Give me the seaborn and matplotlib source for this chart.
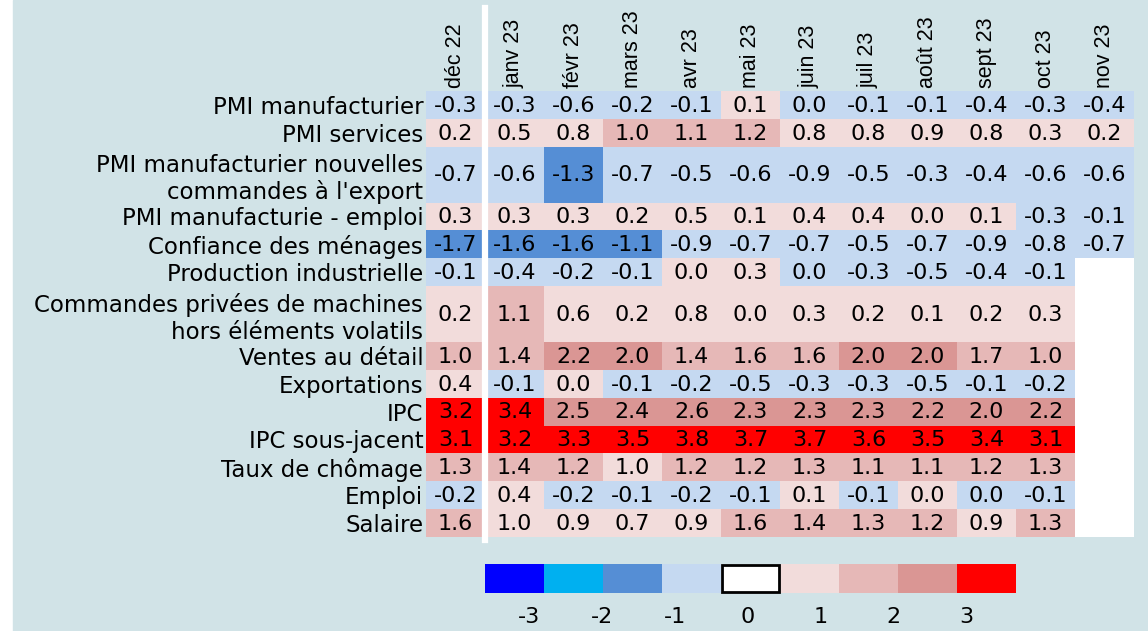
import numpy as np
import pandas as pd
import matplotlib.pyplot as plt
from matplotlib.colors import ListedColormap, BoundaryNorm
from matplotlib.patches import Rectangle
import seaborn as sns

# mois (colonnes) et indicateurs (lignes)
mois = ['déc 22', 'janv 23', 'févr 23', 'mars 23', 'avr 23', 'mai 23', 'juin 23',
        'juil 23', 'août 23', 'sept 23', 'oct 23', 'nov 23']
indicateurs = ['PMI manufacturier', 'PMI services',
               "PMI manufacturier nouvelles\ncommandes à l'export",
               'PMI manufacturie - emploi', 'Confiance des ménages',
               'Production industrielle',
               'Commandes privées de machines\nhors éléments volatils',
               'Ventes au détail', 'Exportations', 'IPC', 'IPC sous-jacent',
               'Taux de chômage', 'Emploi', 'Salaire']
hauteurs = [1, 1, 2, 1, 1, 1, 2, 1, 1, 1, 1, 1, 1, 1]

nan = np.nan
# valeurs (2e décimale = signe/palier de couleur)
pmi_manuf = [-0.3, -0.3, -0.6, -0.2, -0.1, 0.1, -0.02, -0.1, -0.1, -0.4, -0.3, -0.4]
pmi_services = [0.2, 0.5, 0.8, 1.02, 1.1, 1.2, 0.8, 0.8, 0.9, 0.8, 0.3, 0.2]
pmi_export = [-0.7, -0.6, -1.3, -0.7, -0.5, -0.6, -0.9, -0.5, -0.3, -0.4, -0.6, -0.6]
pmi_emploi = [0.3, 0.3, 0.3, 0.2, 0.5, 0.1, 0.4, 0.4, 0.02, 0.1, -0.3, -0.1]
confiance = [-1.7, -1.6, -1.6, -1.1, -0.9, -0.7, -0.7, -0.5, -0.7, -0.9, -0.8, -0.7]
production = [-0.1, -0.4, -0.2, -0.1, 0.02, 0.3, -0.02, -0.3, -0.5, -0.4, -0.1, nan]
commandes = [0.2, 1.1, 0.6, 0.2, 0.8, 0.02, 0.3, 0.2, 0.1, 0.2, 0.3, nan]
ventes = [1.02, 1.4, 2.2, 2.02, 1.4, 1.6, 1.6, 2.02, 2.02, 1.7, 1.02, nan]
exportations = [0.4, -0.1, 0.02, -0.1, -0.2, -0.5, -0.3, -0.3, -0.5, -0.1, -0.2, nan]
ipc = [3.2, 3.4, 2.5, 2.4, 2.6, 2.3, 2.3, 2.3, 2.2, 2.02, 2.2, nan]
ipc_sj = [3.1, 3.2, 3.3, 3.5, 3.8, 3.7, 3.7, 3.6, 3.5, 3.4, 3.1, nan]
chomage = [1.3, 1.4, 1.2, 0.98, 1.2, 1.2, 1.3, 1.1, 1.1, 1.2, 1.3, nan]
emploi = [-0.2, 0.4, -0.2, -0.1, -0.2, -0.1, 0.1, -0.1, 0.02, -0.02, -0.1, nan]
salaire = [1.6, 0.98, 0.9, 0.7, 0.9, 1.6, 1.4, 1.3, 1.2, 0.9, 1.3, nan]

df = pd.DataFrame([pmi_manuf, pmi_services, pmi_export, pmi_emploi, confiance,
                   production, commandes, ventes, exportations, ipc, ipc_sj,
                   chomage, emploi, salaire], index=indicateurs, columns=mois)

# échelle de couleurs par paliers
couleurs = ['#0000FF', '#00B0F0', '#558ED5', '#C5D9F1', '#FFFFFF',
            '#F2DCDB', '#E6B8B7', '#DA9694', '#FF0000']
bornes = [-10, -3, -2, -1, -0.001, 0.001, 1, 2, 3, 10]
cmap = ListedColormap(couleurs)
norm = BoundaryNorm(bornes, cmap.N)

fond = '#D1E3E7'
fig = plt.figure(figsize=(11.48, 6.31), dpi=100, facecolor='white')
fig.patches.append(Rectangle((13 / 1148, 0), 1, 1, transform=fig.transFigure,
                             color=fond, zorder=-1))

ax = fig.add_axes([426 / 1148, 1 - 537 / 631, 708 / 1148, 446 / 631])
ax.set_facecolor('white')

# lignes doubles répétées pour garder des cases plus hautes
grille = np.repeat(df.values, hauteurs, axis=0)
sns.heatmap(grille, cmap=cmap, norm=norm, cbar=False, linewidths=0,
            xticklabels=mois, yticklabels=False, ax=ax)

bords = np.concatenate([[0], np.cumsum(hauteurs)])
centres = (bords[:-1] + bords[1:]) / 2

for i, nom in enumerate(df.index):
    for j, m in enumerate(df.columns):
        v = df.loc[nom, m]
        if np.isnan(v):
            continue
        ax.text(j + 0.5, centres[i] + 0.03, f'{round(v, 1) + 0.0:.1f}',
                ha='center', va='center', fontsize=16, color='black')

ax.set_yticks(centres)
ax.set_yticklabels(df.index, fontsize=16.5, linespacing=1.2)
ax.tick_params(axis='y', length=0, pad=2, rotation=0)

ax.xaxis.tick_top()
ax.set_xticklabels(mois, rotation=90, fontsize=15.5, family='Liberation Sans')
ax.tick_params(axis='x', length=0, pad=2)
ax.set_xlabel('')
ax.set_ylabel('')

# séparation blanche entre déc 22 et janv 23
ax.axvline(1, ymin=-0.007, ymax=1.186, color='white', lw=4.5, clip_on=False)

# légende en paliers
axl = fig.add_axes([485 / 1148, 1 - 593 / 631, 531 / 1148, 29 / 631])
paliers = [-3.5, -2.5, -1.5, -0.5, 0, 0.5, 1.5, 2.5, 3.5]
sns.heatmap(np.array([paliers]), cmap=cmap, norm=norm, cbar=False,
            linewidths=0, xticklabels=False, yticklabels=False, ax=axl)
axl.add_patch(Rectangle((4.02, 0.04), 0.96, 0.92, fill=False, ec='black', lw=2,
                        clip_on=False))
etiquettes = ['-3', '-2', '-1', '0', '1', '2', '3']
axl.set_xticks(np.linspace(0.75, 8.15, len(etiquettes)))
axl.set_xticklabels(etiquettes, fontsize=16)
axl.tick_params(axis='x', length=0, pad=10)

fig.savefig('out.png', dpi=100, facecolor=fig.get_facecolor())
